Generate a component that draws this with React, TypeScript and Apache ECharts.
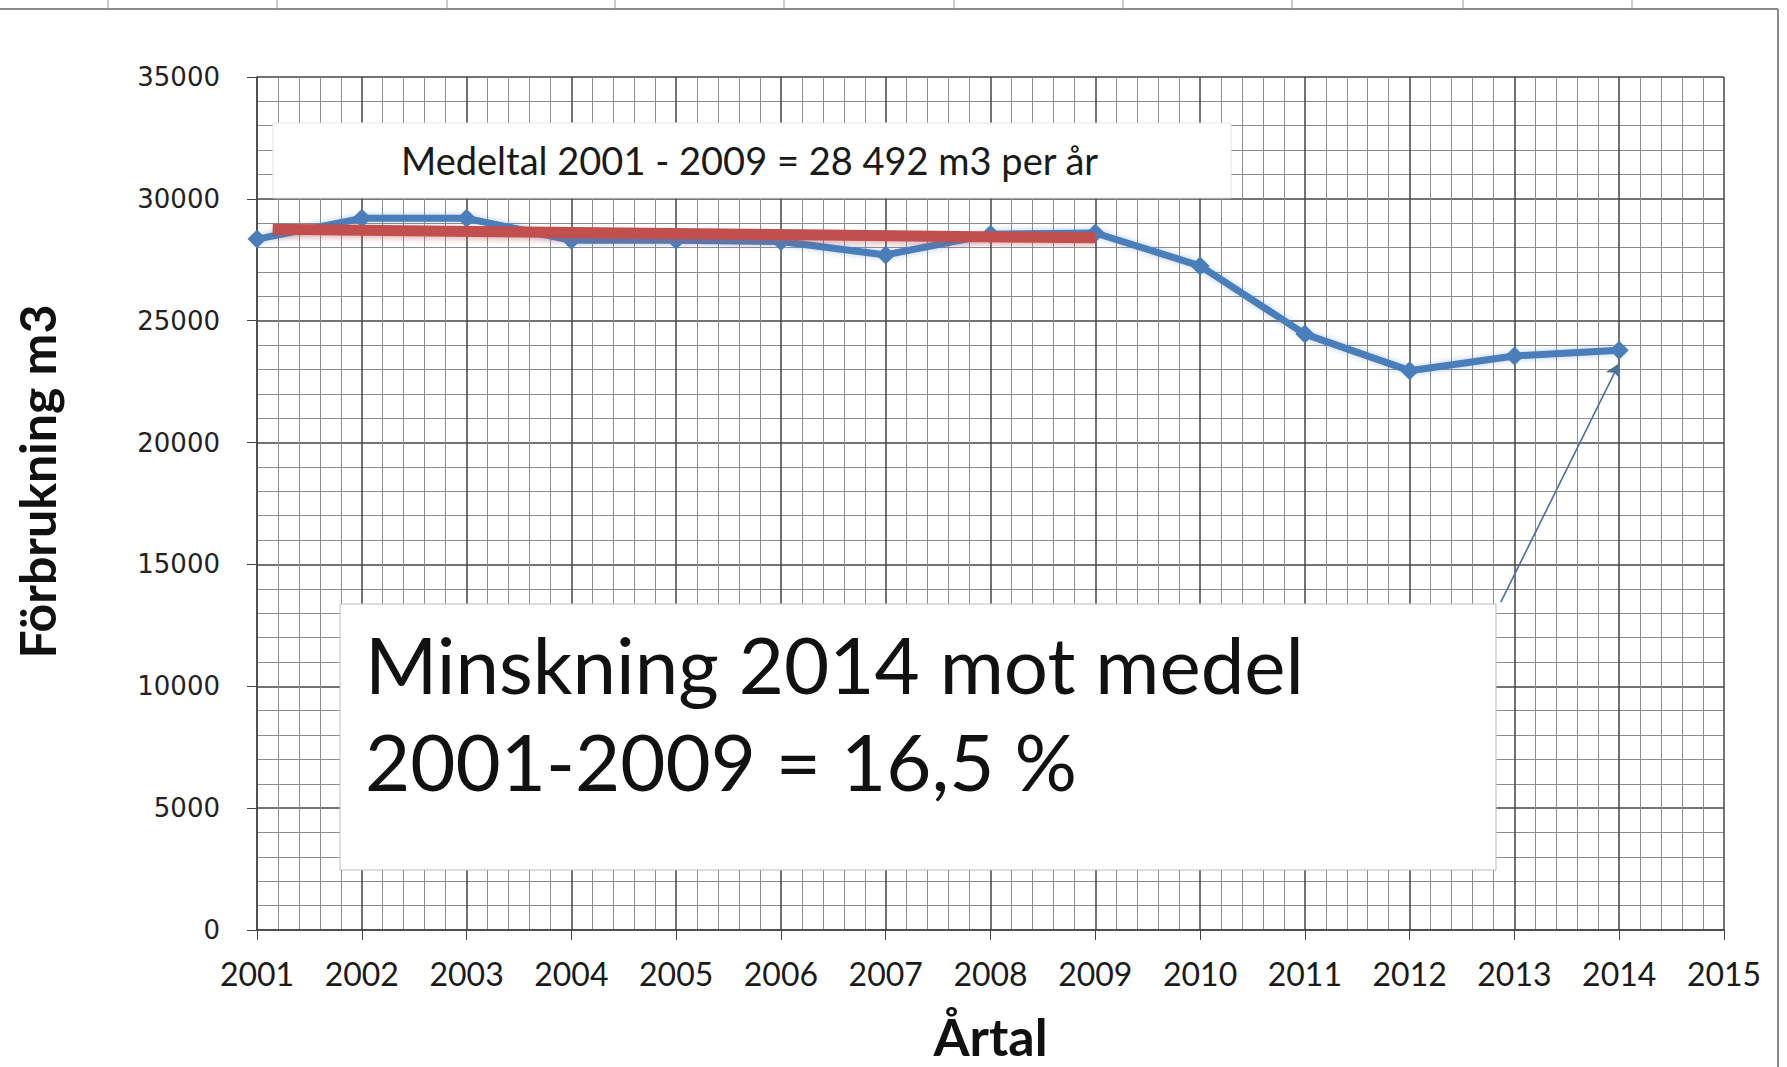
import React, { useEffect, useRef } from "react";
import * as echarts from "echarts";

const years = [2001, 2002, 2003, 2004, 2005, 2006, 2007, 2008, 2009, 2010, 2011, 2012, 2013, 2014];
const consumption = [28350, 29200, 29200, 28300, 28300, 28250, 27700, 28550, 28600, 27250, 24450, 22950, 23550, 23790];
const averageLine: [number, number][] = [[2001.15, 28750], [2009, 28400]];
const arrowFrom: [number, number] = [2012.87, 13450];
const arrowTo: [number, number] = [2014.0, 23250];
const yTicks = [0, 5000, 10000, 15000, 20000, 25000, 30000, 35000];
const xTickMin = 2001;
const xTickMax = 2015;
const noteTop = "Medeltal 2001 - 2009 = 28 492 m3 per år";
const noteBottom1 = "Minskning 2014 mot medel";
const noteBottom2 = "2001-2009 = 16,5 %";
const cellBorders = [108, 277, 447, 615, 784, 954, 1123, 1292, 1463, 1632];

export default function App() {
  const ref = useRef<HTMLDivElement>(null);
  useEffect(() => {
    document.body.style.margin = "0";
    const chart = echarts.init(ref.current!, null, { renderer: "svg" });
    const stub = cellBorders.map((x) => ({
      type: "line",
      shape: { x1: x, y1: 0, x2: x, y2: 9 },
      style: { stroke: "#9a9a9a", lineWidth: 1 },
      z: 5,
    }));
    chart.setOption({
      animation: false,
      backgroundColor: "#ffffff",
      grid: { left: 257, right: 63, top: 77, bottom: 128, containLabel: false },
      xAxis: {
        type: "value",
        min: xTickMin,
        max: xTickMax,
        interval: 1,
        name: "Årtal",
        nameLocation: "middle",
        nameGap: 80,
        nameTextStyle: { fontFamily: "Lato", fontWeight: "bold", fontSize: 52, color: "#111" },
        axisLine: { show: true, lineStyle: { color: "#444", width: 1.5 } },
        axisTick: { show: true, length: 10, lineStyle: { color: "#444" } },
        minorTick: { show: false, splitNumber: 5 },
        axisLabel: {
          fontFamily: "Lato",
          fontSize: 32,
          color: "#1a1a1a",
          margin: 27,
          formatter: (v: number) => String(v),
        },
        splitLine: { show: true, lineStyle: { color: "#444", width: 1.5 } },
        minorSplitLine: { show: true, lineStyle: { color: "#8c8c8c", width: 1 } },
      },
      yAxis: {
        type: "value",
        min: yTicks[0],
        max: yTicks[yTicks.length - 1],
        interval: yTicks[1] - yTicks[0],
        name: "Förbrukning m3",
        nameLocation: "middle",
        nameGap: 195,
        nameTextStyle: {
          fontFamily: "Lato",
          fontWeight: "bold",
          fontSize: 50,
          color: "#111",
          padding: [0, 0, 0, 44],
        },
        axisLine: { show: true, lineStyle: { color: "#444", width: 1.5 } },
        axisTick: { show: true, length: 10, lineStyle: { color: "#444" } },
        minorTick: { show: false, splitNumber: 5 },
        axisLabel: {
          fontFamily: "DejaVu Sans",
          fontSize: 26,
          color: "#222",
          margin: 37,
          formatter: (v: number) => String(v),
        },
        splitLine: { show: true, lineStyle: { color: "#444", width: 1.5 } },
        minorSplitLine: { show: true, lineStyle: { color: "#8c8c8c", width: 1 } },
      },
      series: [
        {
          type: "line",
          name: "Förbrukning",
          data: years.map((y, i) => [y, consumption[i]]),
          symbol: "diamond",
          symbolSize: 19,
          lineStyle: { color: "#4A7EBB", width: 7, shadowColor: "rgba(79,129,189,0.4)", shadowBlur: 6 },
          itemStyle: { color: "#4A7EBB" },
          z: 3,
        },
        {
          type: "line",
          name: "Medel",
          data: averageLine,
          symbol: "none",
          lineStyle: { color: "#C0504D", width: 11, shadowColor: "rgba(192,80,77,0.35)", shadowBlur: 5, shadowOffsetY: 3 },
          z: 4,
          markLine: {
            silent: true,
            symbol: ["none", "arrow"],
            symbolSize: [12, 14],
            label: { show: false },
            lineStyle: { color: "#4f6f96", width: 1.6, type: "solid" },
            data: [[{ coord: arrowFrom }, { coord: arrowTo }]],
          },
        },
      ],
      graphic: [
        {
          type: "line",
          shape: { x1: 0, y1: 9, x2: 1778, y2: 9 },
          style: { stroke: "#8a8a8a", lineWidth: 2 },
          z: 5,
        },
        {
          type: "line",
          shape: { x1: 1778, y1: 9, x2: 1778, y2: 1067 },
          style: { stroke: "#8a8a8a", lineWidth: 2 },
          z: 5,
        },
        ...stub,
        {
          type: "rect",
          shape: { x: 273, y: 123, width: 958, height: 75 },
          style: { fill: "#ffffff", stroke: "#e4e4e4", lineWidth: 1 },
          z: 1,
        },
        {
          type: "text",
          x: 401,
          y: 160,
          style: {
            text: noteTop,
            fontFamily: "Lato",
            fontSize: 38,
            fill: "#1a1a1a",
            verticalAlign: "middle",
          },
          z: 2,
        },
        {
          type: "rect",
          shape: { x: 340, y: 604, width: 1156, height: 266 },
          style: { fill: "#ffffff", stroke: "#bdbdbd", lineWidth: 1 },
          z: 1,
        },
        {
          type: "text",
          x: 365,
          y: 664,
          style: {
            text: noteBottom1,
            fontFamily: "Lato",
            fontSize: 78,
            fill: "#111",
            verticalAlign: "middle",
          },
          z: 2,
        },
        {
          type: "text",
          x: 365,
          y: 761,
          style: {
            text: noteBottom2,
            fontFamily: "Lato",
            fontSize: 78,
            fill: "#111",
            verticalAlign: "middle",
          },
          z: 2,
        },
      ],
    });
    return () => chart.dispose();
  }, []);
  return <div ref={ref} style={{ width: 1787, height: 1067 }} />;
}
